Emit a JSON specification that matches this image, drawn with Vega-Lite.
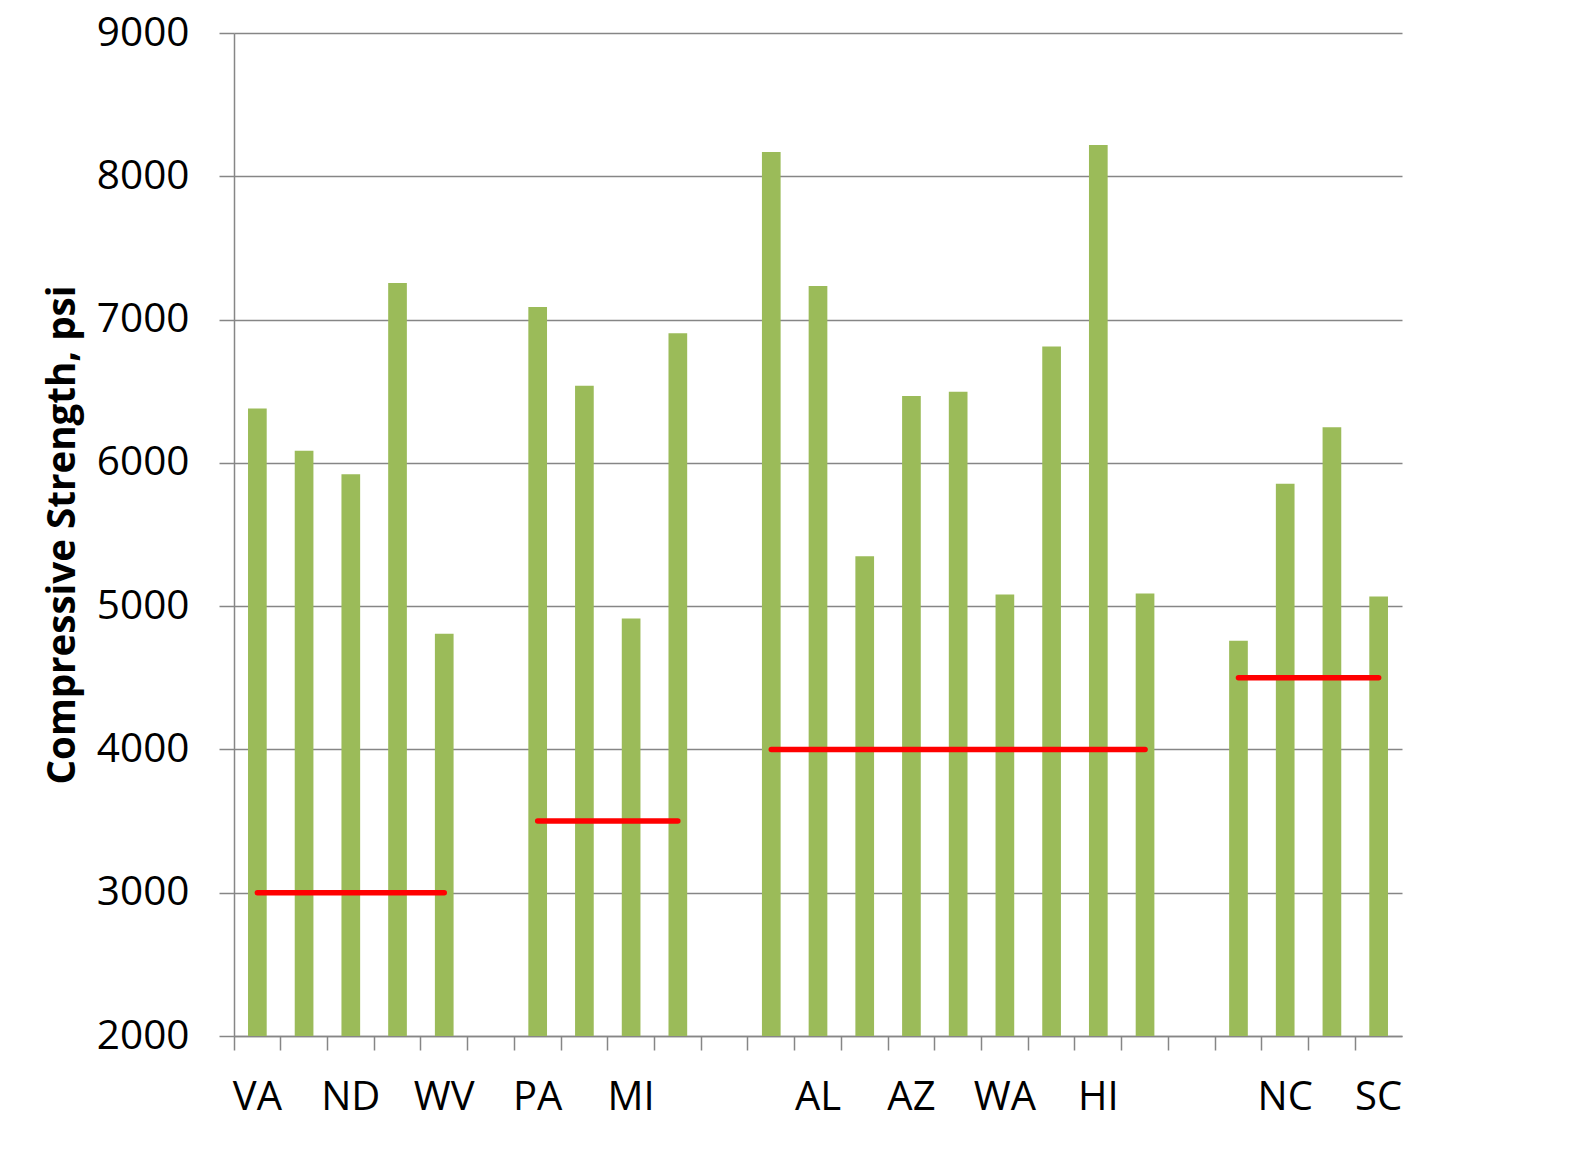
{
  "$schema": "https://vega.github.io/schema/vega-lite/v6.json",
  "autosize": {"type": "none"},
  "width": 1168,
  "height": 1003,
  "padding": {"left": 234, "top": 33, "right": 180, "bottom": 114},
  "background": "white",
  "config": {
    "view": {"stroke": null},
    "axis": {
      "labelFont": "Open Sans",
      "titleFont": "Open Sans",
      "labelColor": "#000000",
      "titleColor": "#000000",
      "domainColor": "#868686",
      "tickColor": "#868686",
      "gridColor": "#868686",
      "domainWidth": 1.5,
      "tickWidth": 1.5,
      "gridWidth": 1.5
    }
  },
  "data": {
    "values": [
      {"cat": "VA", "strength": 6380, "group": "A", "spec": 3000},
      {"cat": "_2", "strength": 6085, "group": "A", "spec": 3000},
      {"cat": "ND", "strength": 5920, "group": "A", "spec": 3000},
      {"cat": "_4", "strength": 7255, "group": "A", "spec": 3000},
      {"cat": "WV", "strength": 4807, "group": "A", "spec": 3000},
      {"cat": "PA", "strength": 7087, "group": "B", "spec": 3500},
      {"cat": "_8", "strength": 6538, "group": "B", "spec": 3500},
      {"cat": "MI", "strength": 4913, "group": "B", "spec": 3500},
      {"cat": "_10", "strength": 6904, "group": "B", "spec": 3500},
      {"cat": "_12", "strength": 8170, "group": "C", "spec": 4000},
      {"cat": "AL", "strength": 7234, "group": "C", "spec": 4000},
      {"cat": "_14", "strength": 5349, "group": "C", "spec": 4000},
      {"cat": "AZ", "strength": 6467, "group": "C", "spec": 4000},
      {"cat": "_16", "strength": 6496, "group": "C", "spec": 4000},
      {"cat": "WA", "strength": 5081, "group": "C", "spec": 4000},
      {"cat": "_18", "strength": 6812, "group": "C", "spec": 4000},
      {"cat": "HI", "strength": 8219, "group": "C", "spec": 4000},
      {"cat": "_20", "strength": 5088, "group": "C", "spec": 4000},
      {"cat": "_22", "strength": 4758, "group": "D", "spec": 4500},
      {"cat": "NC", "strength": 5855, "group": "D", "spec": 4500},
      {"cat": "_24", "strength": 6249, "group": "D", "spec": 4500},
      {"cat": "SC", "strength": 5067, "group": "D", "spec": 4500}
    ]
  },
  "encoding": {
    "x": {
      "field": "cat",
      "type": "nominal",
      "scale": {
        "domain": ["VA", "_2", "ND", "_4", "WV", "_6", "PA", "_8", "MI", "_10", "_11", "_12", "AL", "_14", "AZ", "_16", "WA", "_18", "HI", "_20", "_21", "_22", "NC", "_24", "SC"],
        "paddingInner": 0.6,
        "paddingOuter": 0.3
      },
      "axis": {
        "title": null,
        "labelAngle": 0,
        "bandPosition": -0.75,
        "tickSize": 14,
        "labelPadding": 27,
        "labelFontSize": 40,
        "labelOverlap": false,
        "labelBound": false,
        "labelExpr": "indexof(datum.label, '_') >= 0 ? '' : datum.label"
      }
    }
  },
  "layer": [
    {
      "mark": {"type": "bar", "color": "#9BBB59"},
      "encoding": {
        "y": {
          "field": "strength",
          "type": "quantitative",
          "title": "Compressive Strength, psi",
          "scale": {"domain": [2000, 9000], "nice": false, "zero": false},
          "axis": {
            "values": [2000, 3000, 4000, 5000, 6000, 7000, 8000, 9000],
            "format": "d",
            "labelFontSize": 40.5,
            "labelPadding": 30,
            "tickSize": 15,
            "titleFontSize": 38.5,
            "titleFontWeight": "bold",
            "titlePadding": 14,
            "grid": true
          }
        },
        "y2": {"datum": 2000}
      }
    },
    {
      "mark": {"type": "line", "color": "#FF0000", "strokeWidth": 5.5, "strokeCap": "round"},
      "encoding": {
        "y": {
          "field": "spec",
          "type": "quantitative",
          "title": "Compressive Strength, psi",
          "scale": {"domain": [2000, 9000], "nice": false, "zero": false}
        },
        "detail": {"field": "group"}
      }
    }
  ]
}
